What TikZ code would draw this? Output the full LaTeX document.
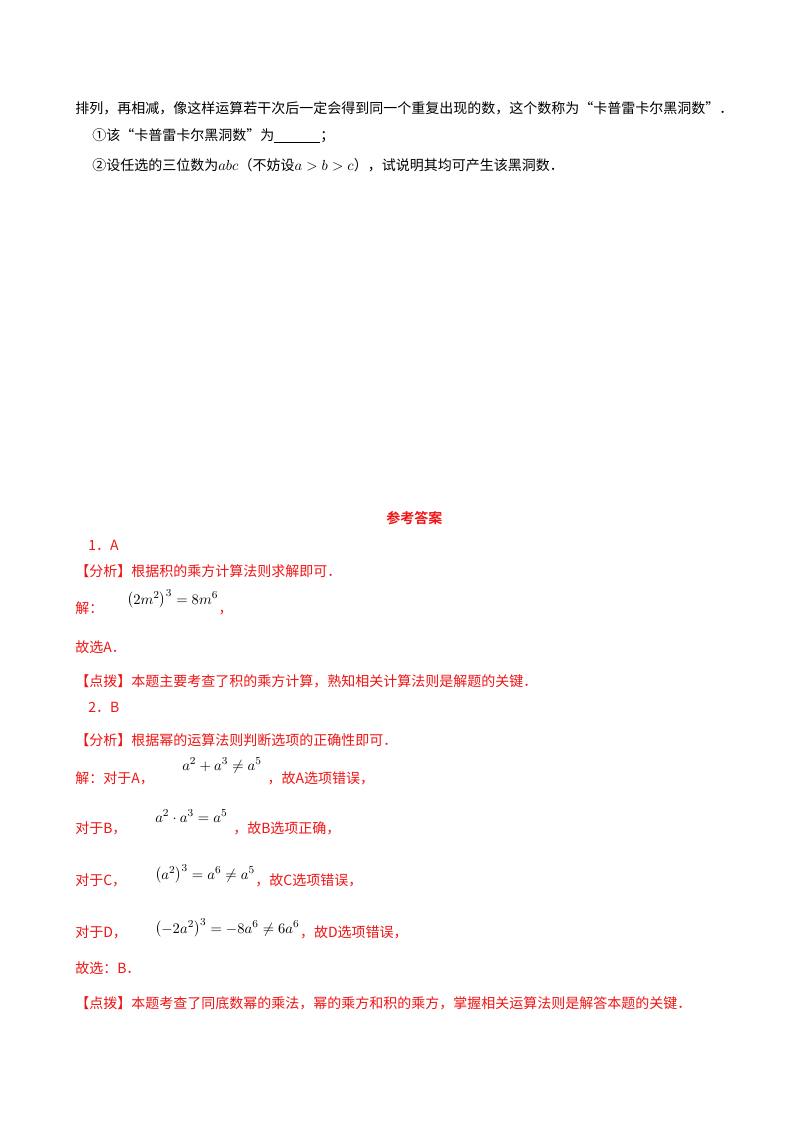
\documentclass[tikz,border=0pt]{standalone}
\usepackage{fontspec}
\setmainfont{Liberation Serif}
\newfontfamily\cjk{Noto Sans CJK SC}
\newfontfamily\cjkb{Noto Sans CJK SC Bold}
\definecolor{ansred}{RGB}{240,20,20}
\tikzset{
  txt/.style={anchor=base west,inner sep=0pt,font=\fontsize{10.5pt}{12pt}\cjk},
  red/.style={txt,text=ansred},
  mth/.style={anchor=base west,inner sep=0pt,font=\fontsize{11pt}{12pt}\selectfont,text=black}
}
\begin{document}
\begin{tikzpicture}[x=0.75pt,y=-0.75pt]
\useasboundingbox[fill=white] (0,0) rectangle (800,1132);
\node[txt] (l1) at (75,113) {排列，再相减，像这样运算若干次后一定会得到同一个重复出现的数，这个数称为“卡普雷卡尔黑洞数”．};
\node[txt] (l2) at (92,140) {①该“卡普雷卡尔黑洞数”为\underline{\hspace{3.3em}}；};
\node[txt] (l3) at (92,170) {②设任选的三位数为$abc$（不妨设$a>b>c$），试说明其均可产生该黑洞数．};
\node[red,font=\fontsize{10.5pt}{12pt}\cjkb] (h) at (386,523) {参考答案};
\node[red] (a1) at (88,550) {1．A};
\node[red] (f1) at (75,576) {【分析】根据积的乘方计算法则求解即可．};
\node[red] (j1) at (75,613) {解：};
\node[mth] (m1) at (127,604) {$\left(2m^2\right)^3=8m^6$};
\node[red] (c1) at (m1.east |- j1.base west) {，};
\node[red] (g1) at (75,652) {故选A．};
\node[red] (d1) at (75,686) {【点拨】本题主要考查了积的乘方计算，熟知相关计算法则是解题的关键．};
\node[red] (a2) at (88,712) {2．B};
\node[red] (f2) at (75,745) {【分析】根据幂的运算法则判断选项的正确性即可．};
\node[red] (jA) at (75,783) {解：对于A，};
\node[mth] (mA) at (182,770) {$a^2+a^3\neq a^5$};
\node[red] (tA) at ([xshift=4pt]mA.east |- jA.base west) {，故A选项错误，};
\node[red] (jB) at (75,833) {对于B，};
\node[mth] (mB) at (155,822) {$a^2\cdot a^3=a^5$};
\node[red] (tB) at ([xshift=4pt]mB.east |- jB.base west) {，故B选项正确，};
\node[red] (jC) at (75,885) {对于C，};
\node[mth] (mC) at (155,879) {$\left(a^2\right)^3=a^6\neq a^5$};
\node[red] (tC) at (mC.east |- jC.base west) {，故C选项错误，};
\node[red] (jD) at (75,937) {对于D，};
\node[mth] (mD) at (155,933) {$\left(-2a^2\right)^3=-8a^6\neq 6a^6$};
\node[red] (tD) at (mD.east |- jD.base west) {，故D选项错误，};
\node[red] (g2) at (75,973) {故选：B．};
\node[red] (d2) at (75,1008) {【点拨】本题考查了同底数幂的乘法，幂的乘方和积的乘方，掌握相关运算法则是解答本题的关键．};
\end{tikzpicture}
\end{document}
